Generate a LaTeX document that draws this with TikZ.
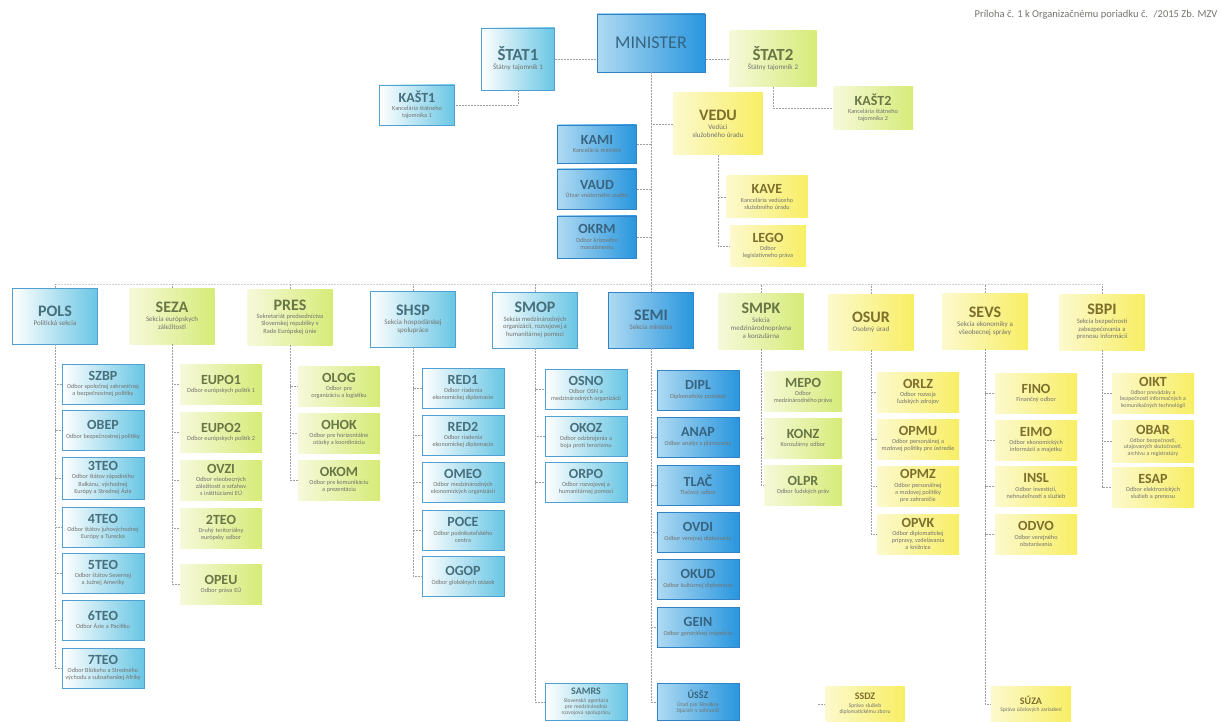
\documentclass[tikz,border=0pt]{standalone}
\usepackage{fontspec}
\setmainfont{Carlito}
\usetikzlibrary{positioning, calc}
\definecolor{modraS}{RGB}{105,198,228}
\definecolor{modraC}{RGB}{80,160,210}
\definecolor{modraT}{RGB}{70,112,125}
\definecolor{tmavaL}{RGB}{175,218,242}
\definecolor{tmavaS}{RGB}{40,150,222}
\definecolor{tmavaC}{RGB}{50,130,200}
\definecolor{tmavaT}{RGB}{55,100,128}
\definecolor{zelenaL}{RGB}{246,249,218}
\definecolor{zelenaS}{RGB}{214,235,120}
\definecolor{zelenaT}{RGB}{105,118,70}
\definecolor{zltaL}{RGB}{252,249,205}
\definecolor{zltaS}{RGB}{248,238,100}
\definecolor{zltaT}{RGB}{125,110,45}
\definecolor{popisC}{RGB}{115,115,110}
\definecolor{spojC}{RGB}{160,160,160}
\newcommand{\popis}[2][6.2]{\\[1pt]\normalfont\fontsize{#1}{#1}\selectfont\baselineskip=1.15\baselineskip\spaceskip=0pt\xspaceskip=0pt\color{popisC}#2\par}

\begin{document}
\begin{tikzpicture}[x=1pt, y=-1pt,
    box/.style={rectangle, align=center, inner sep=1pt, font=\bfseries\fontsize{14}{14}\selectfont},
    modry/.style={box, draw=modraC, line width=0.9pt, left color=white, right color=modraS, text=modraT},
    tmavy/.style={box, draw=tmavaC, line width=0.9pt, left color=tmavaL, right color=tmavaS, text=tmavaT},
    zeleny/.style={box, left color=zelenaL, right color=zelenaS, text=zelenaT},
    zlty/.style={box, left color=zltaL, right color=zltaS, text=zltaT},
    sekcia/.style={minimum width=85pt, minimum height=56pt, text width=76pt, font=\bfseries\fontsize{16}{16}\selectfont},
    odbor/.style={minimum width=82pt, minimum height=40pt, text width=76pt},
    spoj/.style={draw=spojC, line width=0.5pt, dash pattern=on 2pt off 1pt}]
        \useasboundingbox (0,0) rectangle (1221,722);
        %priloha
        \node[anchor=east, text=popisC, font=\fontsize{10.5}{12}\selectfont] (priloha) at (1221,15) {Príloha č. 1 k Organizačnému poriadku č. \ /2015 Zb. MZV};
        %vedenie
        \node[tmavy, minimum width=108pt, minimum height=58pt, font=\fontsize{18}{18}\selectfont] (MIN) at (651,43) {MINISTER};
        \node[modry, minimum width=73pt, minimum height=62pt, text width=68pt, font=\bfseries\fontsize{17}{17}\selectfont] (STAT1) at (518,59) {ŠTAT1\popis[7]{Štátny tajomník 1}};
        \node[zeleny, minimum width=87pt, minimum height=56pt, text width=80pt, font=\bfseries\fontsize{17}{17}\selectfont] (STAT2) at (773,59) {ŠTAT2\popis[7]{Štátny tajomník 2}};
        \node[modry, minimum width=75pt, minimum height=40pt, text width=60pt] (KAST1) at (417,105) {KAŠT1\popis{Kancelária štátneho tajomníka 1}};
        \node[zeleny, minimum width=80pt, minimum height=43pt, text width=60pt] (KAST2) at (873,108) {KAŠT2\popis{Kancelária štátneho tajomníka 2}};
        \node[zlty, minimum width=89pt, minimum height=62pt, text width=66pt, font=\bfseries\fontsize{16}{16}\selectfont] (VEDU) at (718,124) {VEDU\popis[7]{Vedúci služobného úradu}};
        \node[tmavy, minimum width=79pt, minimum height=38pt, text width=74pt] (KAMI) at (597,144) {KAMI\popis{Kancelária ministra}};
        \node[tmavy, minimum width=79pt, minimum height=40pt, text width=74pt] (VAUD) at (597,189) {VAUD\popis{Útvar vnútorného auditu}};
        \node[tmavy, minimum width=79pt, minimum height=42pt, text width=60pt] (OKRM) at (597,237) {OKRM\popis{Odbor krízového manažmentu}};
        \node[zlty, minimum width=81pt, minimum height=42pt, text width=68pt] (KAVE) at (767,197) {KAVE\popis{Kancelária vedúceho služobného úradu}};
        \node[zlty, minimum width=76pt, minimum height=40pt, text width=56pt] (LEGO) at (768,246) {LEGO\popis{Odbor legislatívneho práva}};
        %sekcie
        \node[modry, sekcia] (POLS) at (55,316) {POLS\popis[7]{Politická sekcia}};
        \node[zeleny, sekcia] (SEZA) at (172,316) {SEZA\popis[7]{Sekcia európskych záležitostí}};
        \node[zeleny, sekcia] (PRES) at (290,317) {PRES\popis[6.4]{Sekretariát predsedníctva Slovenskej republiky v Rade Európskej únie}};
        \node[modry, sekcia] (SHSP) at (413,319) {SHSP\popis[7]{Sekcia hospodárskej spolupráce}};
        \node[modry, sekcia] (SMOP) at (535,320) {SMOP\popis[6.6]{Sekcia medzinárodných organizácií, rozvojovej a humanitárnej pomoci}};
        \node[tmavy, sekcia] (SEMI) at (651,320) {SEMI\popis[7]{Sekcia ministra}};
        \node[zeleny, sekcia] (SMPK) at (761,321) {SMPK\popis[7]{Sekcia medzinárodnoprávna a konzulárna}};
        \node[zlty, sekcia] (OSUR) at (871,322) {OSUR\popis[7]{Osobný úrad}};
        \node[zlty, sekcia] (SEVS) at (985,321) {SEVS\popis[7]{Sekcia ekonomiky a všeobecnej správy}};
        \node[zlty, sekcia] (SBPI) at (1102,322) {SBPI\popis[6.6]{Sekcia bezpečnosti zabezpečovania a prenosu informácií}};
        %odbory POLS
        \node[modry, odbor] (SZBP) at (103,384) {SZBP\popis{Odbor spoločnej zahraničnej a bezpečnostnej politiky}};
        \node[modry, odbor] (OBEP) at (103,430) {OBEP\popis{Odbor bezpečnostnej politiky}};
        \node[modry, odbor, minimum height=42pt] (teo3) at (103,478) {3TEO\popis{Odbor štátov západného Balkánu, východnej Európy a Strednej Ázie}};
        \node[modry, odbor] (teo4) at (103,527) {4TEO\popis{Odbor štátov juhovýchodnej Európy a Turecka}};
        \node[modry, odbor] (teo5) at (103,573) {5TEO\popis{Odbor štátov Severnej a Južnej Ameriky}};
        \node[modry, odbor] (teo6) at (103,620) {6TEO\popis{Odbor Ázie a Pacifiku}};
        \node[modry, odbor] (teo7) at (103,668) {7TEO\popis{Odbor Blízkeho a Stredného východu a subsaharskej Afriky}};
        %odbory SEZA
        \node[zeleny, odbor] (EUPO1) at (221,384) {EUPO1\popis{Odbor európskych politík 1}};
        \node[zeleny, odbor] (EUPO2) at (221,432) {EUPO2\popis{Odbor európskych politík 2}};
        \node[zeleny, odbor, text width=64pt] (OVZI) at (221,480) {OVZI\popis{Odbor všeobecných záležitostí a vzťahov s inštitúciami EÚ}};
        \node[zeleny, odbor, text width=70pt] (teo2) at (221,528) {2TEO\popis{Druhý teritoriálny európsky odbor}};
        \node[zeleny, odbor] (OPEU) at (221,584) {OPEU\popis{Odbor práva EÚ}};
        %odbory PRES
        \node[zeleny, odbor, text width=64pt] (OLOG) at (339,386) {OLOG\popis{Odbor pre organizáciu a logistiku}};
        \node[zeleny, odbor, text width=64pt] (OHOK) at (339,433) {OHOK\popis{Odbor pre horizontálne otázky a koordináciu}};
        \node[zeleny, odbor, text width=64pt] (OKOM) at (339,480) {OKOM\popis{Odbor pre komunikáciu a prezentáciu}};
        %odbory SHSP
        \node[modry, odbor] (RED1) at (463,388) {RED1\popis{Odbor riadenia ekonomickej diplomacie}};
        \node[modry, odbor] (RED2) at (463,435) {RED2\popis{Odbor riadenia ekonomickej diplomacie}};
        \node[modry, odbor] (OMEO) at (463,482) {OMEO\popis{Odbor medzinárodných ekonomických organizácií}};
        \node[modry, odbor, text width=64pt] (POCE) at (463,530) {POCE\popis{Odbor podnikateľského centra}};
        \node[modry, odbor] (OGOP) at (463,576) {OGOP\popis{Odbor globálnych otázok}};
        %odbory SMOP
        \node[modry, odbor] (OSNO) at (586,389) {OSNO\popis{Odbor OSN a medzinárodných organizácií}};
        \node[modry, odbor] (OKOZ) at (586,436) {OKOZ\popis{Odbor odzbrojenia a boja proti terorizmu}};
        \node[modry, odbor, text width=64pt] (ORPO) at (586,482) {ORPO\popis{Odbor rozvojovej a humanitárnej pomoci}};
        \node[modry, odbor, minimum height=37pt, font=\bfseries\fontsize{10}{10}\selectfont] (SAMRS) at (586,702) {SAMRS\popis[5.6]{Slovenská agentúra pre medzinárodnú rozvojovú spoluprácu}};
        %odbory SEMI
        \node[tmavy, odbor] (DIPL) at (698,390) {DIPL\popis{Diplomatický protokol}};
        \node[tmavy, odbor] (ANAP) at (698,437) {ANAP\popis{Odbor analýz a plánovania}};
        \node[tmavy, odbor] (TLAC) at (698,485) {TLAČ\popis{Tlačový odbor}};
        \node[tmavy, odbor] (OVDI) at (698,532) {OVDI\popis{Odbor verejnej diplomacie}};
        \node[tmavy, odbor] (OKUD) at (698,579) {OKUD\popis{Odbor kultúrnej diplomacie}};
        \node[tmavy, odbor] (GEIN) at (698,627) {GEIN\popis{Odbor generálnej inšpekcie}};
        \node[tmavy, odbor, minimum height=37pt, font=\bfseries\fontsize{10}{10}\selectfont] (USSZ) at (698,702) {ÚSŠZ\popis[5.6]{Úrad pre Slovákov žijúcich v zahraničí}};
        %odbory SMPK
        \node[zeleny, odbor, minimum width=78pt, text width=60pt] (MEPO) at (803,391) {MEPO\popis{Odbor medzinárodného práva}};
        \node[zeleny, odbor, minimum width=78pt, text width=72pt] (KONZ) at (803,438) {KONZ\popis{Konzulárny odbor}};
        \node[zeleny, odbor, minimum width=78pt, text width=72pt] (OLPR) at (803,485) {OLPR\popis{Odbor ľudských práv}};
        %odbory OSUR
        \node[zlty, odbor, text width=62pt] (ORLZ) at (918,392) {ORLZ\popis{Odbor rozvoja ľudských zdrojov}};
        \node[zlty, odbor] (OPMU) at (918,439) {OPMU\popis{Odbor personálnej a mzdovej politiky pre ústredie}};
        \node[zlty, odbor, text width=66pt] (OPMZ) at (918,486) {OPMZ\popis{Odbor personálnej a mzdovej politiky pre zahraničie}};
        \node[zlty, odbor, text width=70pt] (OPVK) at (918,534) {OPVK\popis{Odbor diplomatickej prípravy, vzdelávania a knižnice}};
        \node[zlty, odbor, minimum width=79pt, minimum height=36pt, text width=60pt, font=\bfseries\fontsize{10}{10}\selectfont] (SSDZ) at (865,704) {SSDZ\popis[5.6]{Správa služieb diplomatickému zboru}};
        %odbory SEVS
        \node[zlty, odbor] (FINO) at (1036,393) {FINO\popis{Finančný odbor}};
        \node[zlty, odbor, text width=66pt] (EIMO) at (1036,440) {EIMO\popis{Odbor ekonomických informácií a majetku}};
        \node[zlty, odbor, text width=70pt] (INSL) at (1036,486) {INSL\popis{Odbor investícií, nehnuteľností a služieb}};
        \node[zlty, odbor, text width=60pt] (ODVO) at (1036,534) {ODVO\popis{Odbor verejného obstarávania}};
        \node[zlty, odbor, minimum width=80pt, minimum height=36pt, font=\bfseries\fontsize{10}{10}\selectfont] (SUZA) at (1031,704) {SÚZA\popis[5.6]{Správa účelových zariadení}};
        %odbory SBPI
        \node[zlty, odbor] (OIKT) at (1153,393) {OIKT\popis[5.8]{Odbor prevádzky a bezpečnosti informačných a komunikačných technológií}};
        \node[zlty, odbor, minimum height=42pt] (OBAR) at (1153,441) {OBAR\popis[5.8]{Odbor bezpečnosti, utajovaných skutočností, archívu a registratúry}};
        \node[zlty, odbor, text width=70pt] (ESAP) at (1153,487) {ESAP\popis{Odbor elektronických služieb a prenosu}};
        %spoje vedenie
        \draw[spoj] (STAT1.east) -- (STAT1.east -| MIN.west);
        \draw[spoj] (STAT2.west) -- (STAT2.west -| MIN.east);
        \draw[spoj] (STAT1.south) |- (KAST1.east);
        \draw[spoj] (STAT2.south) |- (KAST2.west);
        \draw[spoj] (MIN.south) -- (SEMI.north);
        \draw[spoj] (VEDU.west) -- (VEDU.west -| MIN.south);
        \draw[spoj] (KAMI.east) -- (KAMI.east -| MIN.south);
        \draw[spoj] (VAUD.east) -- (VAUD.east -| MIN.south);
        \draw[spoj] (OKRM.east) -- (OKRM.east -| MIN.south);
        \draw[spoj] (VEDU.south) |- (KAVE.west);
        \draw[spoj] (VEDU.south) |- (LEGO.west);
        %zbernica sekcii
        \coordinate (busL) at (55,284);
        \coordinate (busR) at (1102,284);
        \draw[spoj, draw=spojC!50] (busL) -- (busR);
        \foreach \s in {POLS,SEZA,PRES,SHSP,SMOP,SMPK,OSUR,SEVS,SBPI}
            \draw[spoj] (\s.north) -- (\s.north |- busL);
        %spoje odbory
        \foreach \o in {SZBP,OBEP,teo3,teo4,teo5,teo6,teo7}
            \draw[spoj] (POLS.south) |- (\o.west);
        \foreach \o in {EUPO1,EUPO2,OVZI,teo2,OPEU}
            \draw[spoj] (SEZA.south) |- (\o.west);
        \foreach \o in {OLOG,OHOK,OKOM}
            \draw[spoj] (PRES.south) |- (\o.west);
        \foreach \o in {RED1,RED2,OMEO,POCE,OGOP}
            \draw[spoj] (SHSP.south) |- (\o.west);
        \foreach \o in {OSNO,OKOZ,ORPO,SAMRS}
            \draw[spoj] (SMOP.south) |- (\o.west);
        \foreach \o in {DIPL,ANAP,TLAC,OVDI,OKUD,GEIN,USSZ}
            \draw[spoj] (SEMI.south) |- (\o.west);
        \foreach \o in {MEPO,KONZ,OLPR}
            \draw[spoj] (SMPK.south) |- (\o.west);
        \foreach \o in {ORLZ,OPMU,OPMZ,OPVK}
            \draw[spoj] (OSUR.south) |- (\o.west);
        \foreach \o in {FINO,EIMO,INSL,ODVO,SUZA}
            \draw[spoj] (SEVS.south) |- (\o.west);
        \foreach \o in {OIKT,OBAR,ESAP}
            \draw[spoj] (SBPI.south) |- (\o.west);
        \coordinate (ssdzT) at (818,704);
        \draw[spoj] (ssdzT) -- (SSDZ.west);
\end{tikzpicture}
\end{document}
